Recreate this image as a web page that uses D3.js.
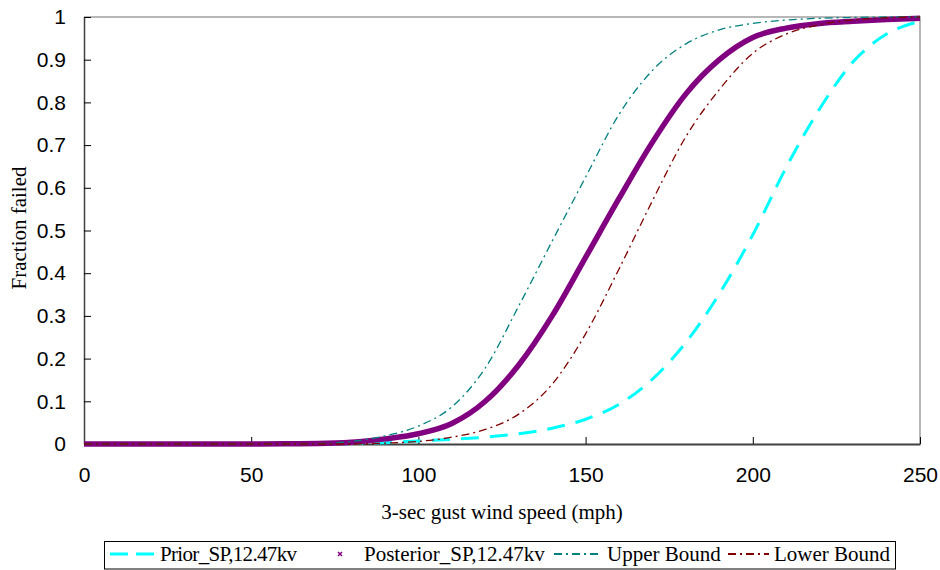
<!DOCTYPE html>
<html>
<head>
<meta charset="utf-8">
<script src="https://cdn.jsdelivr.net/npm/d3@7"></script>
<style>
  body { margin: 0; background: #fff; }
  svg { display: block; font-family: "Liberation Serif", "Times New Roman", serif; }
</style>
</head>
<body>
<div id="svg-container"></div>
<script>
const width = 940;
const height = 570;
const margin = { top: 17, right: 20, bottom: 126, left: 84 };

// wind speed (mph) and fraction failed
const windSpeed = [0, 10, 20, 30, 40, 50, 60, 70, 80, 90, 100, 110, 120, 130, 140, 150, 160, 170, 180, 190, 200, 210, 220, 230, 240, 250];
const prior = [0, 0, 0, 0, 0, 0, 0, 0, 0.001, 0.003, 0.007, 0.011, 0.016, 0.024, 0.037, 0.058, 0.093, 0.152, 0.238, 0.352, 0.49, 0.648, 0.785, 0.895, 0.96, 0.99];
const posterior = [0, 0, 0, 0, 0, 0, 0.0005, 0.001, 0.004, 0.012, 0.024, 0.048, 0.1, 0.185, 0.3, 0.437, 0.575, 0.707, 0.82, 0.9, 0.952, 0.974, 0.985, 0.99, 0.994, 0.997];
const upperBound = [0, 0, 0, 0, 0, 0, 0, 0.001, 0.006, 0.019, 0.042, 0.087, 0.178, 0.323, 0.475, 0.625, 0.772, 0.875, 0.937, 0.97, 0.985, 0.993, 0.997, 0.999, 1, 1];
const lowerBound = [0, 0, 0, 0, 0, 0, 0, 0, 0, 0.002, 0.006, 0.016, 0.034, 0.07, 0.14, 0.258, 0.41, 0.57, 0.72, 0.83, 0.915, 0.96, 0.982, 0.993, 0.998, 1];

const xTicks = [0, 50, 100, 150, 200, 250];
const yTicks = [0, 0.1, 0.2, 0.3, 0.4, 0.5, 0.6, 0.7, 0.8, 0.9, 1];

const series = [
  { name: "Prior_SP,12.47kv", values: prior, color: "#00ffff", width: 3, dash: "18,11" },
  { name: "Posterior_SP,12.47kv", values: posterior, color: "#800080", width: 5.5, dash: null },
  { name: "Upper Bound", values: upperBound, color: "#008080", width: 1.3, dash: "8,4,2,4" },
  { name: "Lower Bound", values: lowerBound, color: "#800000", width: 1.3, dash: "8,4,2,4" },
];

const svg = d3
  .select("#svg-container")
  .append("svg")
  .attr("width", width)
  .attr("height", height);

const xScale = d3
  .scaleLinear()
  .domain([0, 250])
  .range([margin.left, width - margin.right]);

const yScale = d3
  .scaleLinear()
  .domain([0, 1])
  .range([height - margin.bottom, margin.top]);

// plot frame (top and right edges)
svg
  .append("path")
  .attr("d", `M${xScale(0)},${yScale(1)}H${xScale(250)}V${yScale(0)}`)
  .attr("fill", "none")
  .attr("stroke", "#a0a0a0")
  .attr("stroke-width", 1.5);

// x axis
const xAxis = d3.axisBottom(xScale).tickValues(xTicks).tickSize(-7).tickSizeOuter(0).tickPadding(23);
const gx = svg
  .append("g")
  .attr("transform", `translate(0, ${yScale(0)})`)
  .call(xAxis);
gx.select(".domain").attr("stroke", "#404040").attr("stroke-width", 2);
gx.selectAll(".tick line").attr("stroke", "#000");
gx.selectAll(".tick text").attr("font-size", 21).attr("font-family", null).attr("fill", "#000");

// y axis
const yAxis = d3.axisLeft(yScale).tickValues(yTicks).tickSize(-7).tickSizeOuter(0).tickPadding(18).tickFormat(d3.format("~g"));
const gy = svg
  .append("g")
  .attr("transform", `translate(${xScale(0)}, 0)`)
  .call(yAxis);
gy.select(".domain").attr("stroke", "#404040").attr("stroke-width", 1.5);
gy.selectAll(".tick line").attr("stroke", "#000");
gy.selectAll(".tick text").attr("font-size", 21).attr("font-family", null).attr("fill", "#000");

// axis titles
svg
  .append("text")
  .attr("x", (xScale(0) + xScale(250)) / 2)
  .attr("y", 519)
  .attr("text-anchor", "middle")
  .attr("font-size", 21)
  .text("3-sec gust wind speed (mph)");

svg
  .append("text")
  .attr("transform", "rotate(-90)")
  .attr("x", -228)
  .attr("y", 26)
  .attr("text-anchor", "middle")
  .attr("font-size", 21)
  .text("Fraction failed");

// curves
const line = d3
  .line()
  .x((d) => xScale(d[0]))
  .y((d) => yScale(d[1]))
  .curve(d3.curveMonotoneX);

series.forEach((s) => {
  svg
    .append("path")
    .datum(windSpeed.map((w, i) => [w, s.values[i]]))
    .attr("d", line)
    .attr("fill", "none")
    .attr("stroke", s.color)
    .attr("stroke-width", s.width)
    .attr("stroke-dasharray", s.dash);
});

// legend
const legend = svg.append("g");
legend
  .append("rect")
  .attr("x", 104.5)
  .attr("y", 541.5)
  .attr("width", 791)
  .attr("height", 27.5)
  .attr("fill", "#fff")
  .attr("stroke", "#000");

const legendItems = [
  { sx: 110, ex: 154, tx: 160 },
  { sx: 340, ex: 340, tx: 364 },
  { sx: 554, ex: 602, tx: 607 },
  { sx: 728, ex: 769, tx: 774 },
];

series.forEach((s, i) => {
  const it = legendItems[i];
  const ly = 554;
  if (s.dash === null) {
    // posterior shows only a small marker
    legend
      .append("path")
      .attr("d", `M${it.sx - 2},${ly - 2}L${it.sx + 2},${ly + 2}M${it.sx - 2},${ly + 2}L${it.sx + 2},${ly - 2}`)
      .attr("stroke", s.color)
      .attr("stroke-width", 1.5);
  } else {
    legend
      .append("line")
      .attr("x1", it.sx)
      .attr("x2", it.ex)
      .attr("y1", ly)
      .attr("y2", ly)
      .attr("stroke", s.color)
      .attr("stroke-width", i === 0 ? 3 : 2)
      .attr("stroke-dasharray", i === 0 ? "18,8" : "8,4,2,4");
  }
  legend
    .append("text")
    .attr("x", it.tx)
    .attr("y", 561)
    .attr("font-size", 21)
    .attr("textLength", i === 0 ? 137 : null)
    .text(s.name);
});
</script>
</body>
</html>
